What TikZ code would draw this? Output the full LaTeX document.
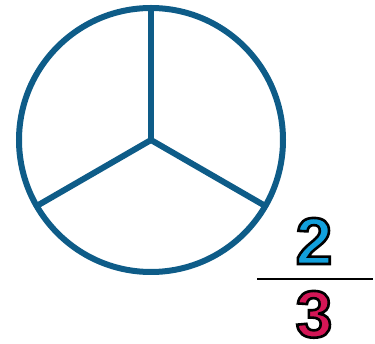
\documentclass[tikz,border=0pt]{standalone}
\usepackage{fontspec}
\setmainfont{Liberation Sans}
\usepackage{tikz}
\usetikzlibrary{calc}

\definecolor{rimblue}{RGB}{14,92,136}
\definecolor{numblue}{RGB}{18,160,220}
\definecolor{denred}{RGB}{212,22,86}

% digit drawn filled and stroked in black
\newcommand{\rimmed}[1]{\special{pdf:literal direct q 0 G 2.6 w 2 Tr}#1\special{pdf:literal direct 0 Tr Q}}

\tikzset{
  rim/.style={draw=rimblue, line width=6pt},
  spoke/.style={draw=rimblue, line width=6pt, line cap=round},
  digit/.style={font=\fontsize{66}{66}\selectfont\bfseries, inner sep=0pt, anchor=base},
  fracbar/.style={draw=black, line width=2.4pt}
}

\begin{document}
\begin{tikzpicture}[x=1pt, y=-1pt]
            \useasboundingbox (0,0) rectangle (375,344);
            % circle cut in three
            \coordinate (o) at (151,140);
            \draw[rim] (o) circle (132);
            \foreach \ang/\nm in {90/top,210/left,330/right}{
                \coordinate (\nm) at ($(o)+(\ang:-132)$);
            }
            \coordinate (top) at (151,8);
            \draw[spoke] (o) -- (top);
            \draw[spoke] (o) -- (left);
            \draw[spoke] (o) -- (right);
            % fraction
            \node[digit, text=numblue] (num) at (314,264) {\rimmed{2}};
            \node[digit, text=denred] (den) at (314,337) {\rimmed{3}};
            \coordinate (barl) at (257,279);
            \coordinate (barr) at (373,279);
            \draw[fracbar] (barl) -- (barr);
        \end{tikzpicture}
\end{document}
